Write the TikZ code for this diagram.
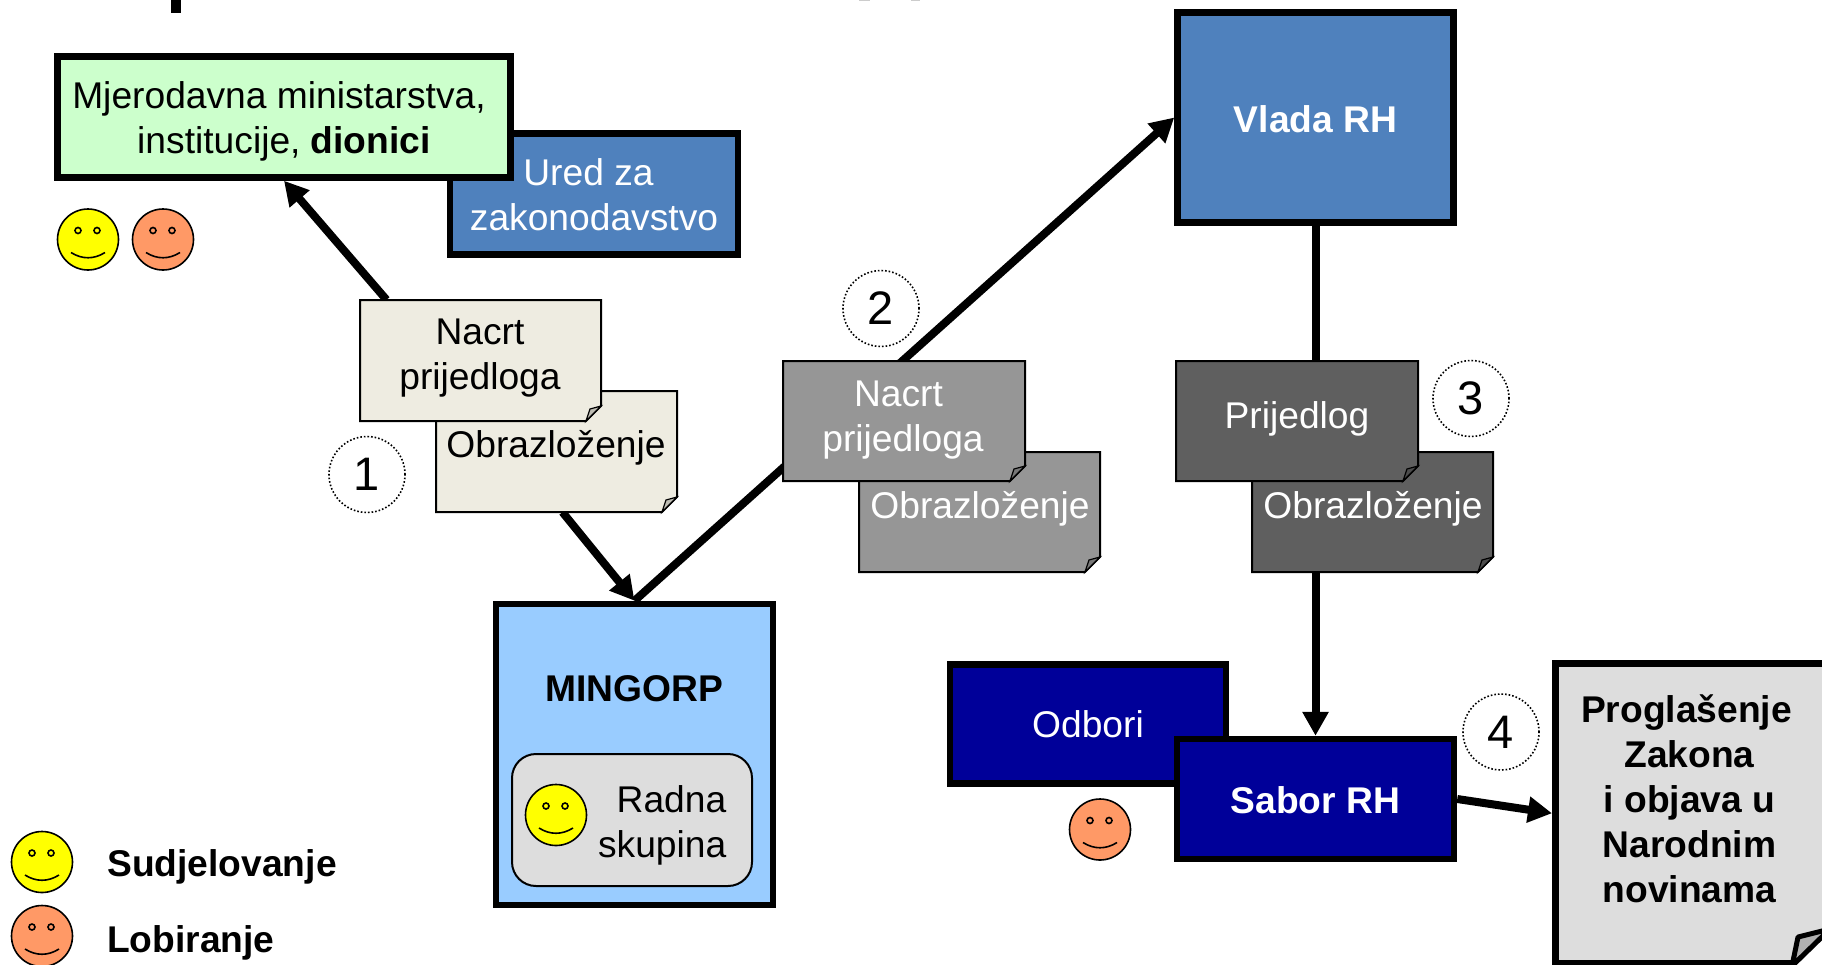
\documentclass[tikz,border=0pt]{standalone}
\usepackage{fontspec}
\setmainfont{Liberation Sans}
\usetikzlibrary{arrows.meta}
\pgfdeclarelayer{back}
\pgfsetlayers{back,main}
\definecolor{mgreen}{HTML}{CCFFCC}
\definecolor{mblue}{HTML}{4F81BD}
\definecolor{mlight}{HTML}{99CCFF}
\definecolor{mnavy}{HTML}{000099}
\definecolor{mbeige}{HTML}{EEECE1}
\definecolor{mgrey}{HTML}{969696}
\definecolor{mdark}{HTML}{5F5F5F}
\definecolor{mpale}{HTML}{DDDDDD}
\definecolor{myellow}{HTML}{FFFF00}
\definecolor{morange}{HTML}{FF9966}
\tikzset{
  x=1pt,y=-1pt,
  every node/.style={font=\fontsize{37.2}{45}\selectfont},
  heavybox/.style={draw=black,line width=6.5pt,rectangle,sharp corners,inner sep=0pt,align=center},
  arr/.style={line width=8pt,-{Triangle[length=24pt,width=25pt]}},
  lbl/.style={inner sep=0pt,align=center},
  whitelbl/.style={lbl,text=white},
  boldlbl/.style={lbl,font=\fontsize{37.2}{45}\selectfont\bfseries},
  boldwhite/.style={boldlbl,text=white},
  stepnum/.style={circle,draw=black,dotted,line width=1.6pt,minimum size=76pt,inner sep=0pt,font=\fontsize{47}{50}\selectfont,text=black},
  face/.style={circle,draw=black,line width=1.6pt,minimum size=61pt,inner sep=0pt},
  faceline/.style={draw=black,line width=1.6pt},
}
% name, x, y, colour
\newcommand{\smiley}[4]{%
  \node[face,fill=#4] (#1) at (#2,#3) {};
  \draw[faceline] ([shift={(-10,-9)}]#1.center) circle (3pt);
  \draw[faceline] ([shift={(9,-9)}]#1.center) circle (3pt);
  \draw[faceline] ([shift={(-17,13)}]#1.center) .. controls ([shift={(-6,20)}]#1.center) and ([shift={(6,20)}]#1.center) .. ([shift={(17,13)}]#1.center);
}
% name, x1, y1, x2, y2, colour
\newcommand{\docsheet}[6]{%
  \draw[line width=2pt,fill=#6] (#2,#3) -- (#4,#3) -- (#4,#5-15) -- (#4-15,#5) -- (#2,#5) -- cycle;
  \draw[line width=1.2pt,fill=#6!80!black] (#4-15,#5) -- (#4-11,#5-12) -- (#4,#5-15) -- cycle;
  \node[inner sep=0pt,minimum width=#4-#2,minimum height=#5-#3] (#1) at ({(#2+#4)/2},{(#3+#5)/2}) {};
}
\begin{document}
\begin{tikzpicture}
\clip (0,0) rectangle (1822,964);
% clipped title stubs
\fill[black] (171,0) rectangle (181,13);
\fill[gray!40] (859,0) rectangle (870,1.2);
\fill[gray!40] (911,0) rectangle (920,1.2);

% boxes
\node[heavybox,fill=mblue,minimum width=288,minimum height=121] (ured) at (594,194) {};
\node[whitelbl] (uredt) at (594,195) {Ured za\hspace*{11pt}\\zakonodavstvo};
\node[heavybox,fill=mgreen,minimum width=453,minimum height=121] (green) at (284,117) {};
\node[lbl] (greent) at (284,121) {Mjerodavna ministarstva,\hspace*{10pt}\\institucije, \textbf{dionici}};
\node[heavybox,fill=mblue,minimum width=276,minimum height=210] (vlada) at (1315.5,117.5) {};
\node[boldwhite] (vladat) at (1315.5,119) {Vlada RH};
\node[heavybox,fill=mlight,minimum width=277,minimum height=301] (ming) at (634.5,754.5) {};
\node[boldlbl] (mingt) at (634.5,688.5) {MINGORP};
\node[draw=black,line width=2pt,fill=mpale,rounded corners=24pt,minimum width=240,minimum height=132,inner sep=0pt] (radna) at (632,820) {};
\node[lbl,align=right,anchor=east] (radnat) at (726.5,825) {Radna\\skupina};
\node[heavybox,fill=mnavy,minimum width=276,minimum height=119] (odbori) at (1088,724) {};
\node[whitelbl] (odborit) at (1088,724.5) {Odbori};
\node[heavybox,fill=mnavy,minimum width=277,minimum height=120] (sabor) at (1315.5,799) {};
\node[boldwhite] (sabort) at (1315.5,800.5) {Sabor RH};
\node[heavybox,fill=mpale,minimum width=274,minimum height=300,anchor=north west] (prog) at (1552,660) {};
\fill[white] (1795,966) -- (1830,930) -- (1830,966) -- cycle;
\draw[line width=5pt,line join=round,fill=mpale!80!black] (1792,966) -- (1798,937) -- (1830,929) -- cycle;
\node[boldlbl] (progt) at (1689.5,799) {Proglašenje\hspace*{6pt}\\Zakona\\i objava u\\Narodnim\\novinama};

% document sheets
\docsheet{obrazA}{436}{391}{677}{512}{mbeige}
\docsheet{nacrtA}{360}{300}{601}{421}{mbeige}
\docsheet{obrazB}{859}{452}{1100}{572}{mgrey}
\docsheet{nacrtB}{783}{361}{1025}{481}{mgrey}
\docsheet{obrazC}{1252}{452}{1493}{572}{mdark}
\docsheet{nacrtC}{1176}{361}{1418}{481}{mdark}
\node[lbl] (nacrtAt) at (480,358.5) {Nacrt\\prijedloga};
\node[lbl] (obrazAt) at (556,448) {Obrazloženje};
\node[whitelbl] (nacrtBt) at (903,420) {Nacrt\hspace*{9pt}\\prijedloga};
\node[whitelbl] (obrazBt) at (980,509) {Obrazloženje};
\node[whitelbl] (nacrtCt) at (1297,418.5) {Prijedlog};
\node[whitelbl] (obrazCt) at (1373,509) {Obrazloženje};

% numbered circles
\node[stepnum] (n1) at (367,474.5) {1};
\node[stepnum] (n2) at (881,308.5) {2};
\node[stepnum] (n3) at (1471,398.5) {3};
\node[stepnum] (n4) at (1501,732) {4};

% faces
\smiley{fa}{88}{239.5}{myellow}
\smiley{fb}{163}{239.5}{morange}
\smiley{fc}{556}{815}{myellow}
\smiley{fd}{1100}{829.5}{morange}
\smiley{fe}{42}{862}{myellow}
\smiley{ff}{42}{936}{morange}
\node[boldlbl,anchor=west] (leg1) at (107,866.5) {Sudjelovanje};
\node[boldlbl,anchor=west] (leg2) at (107,942.5) {Lobiranje};

% connectors
\begin{pgfonlayer}{back}
\draw[arr] ([xshift=-94pt]nacrtA.north) -- (green.south);
\draw[arr] ([xshift=6pt]obrazA.south) -- (ming.north);
\draw[arr] (ming.north) -- (vlada.west);
\draw[arr] (vlada.south) -- (sabor.north);
\draw[arr] (sabor.east) -- (prog.west);
\end{pgfonlayer}
\end{tikzpicture}
\end{document}
